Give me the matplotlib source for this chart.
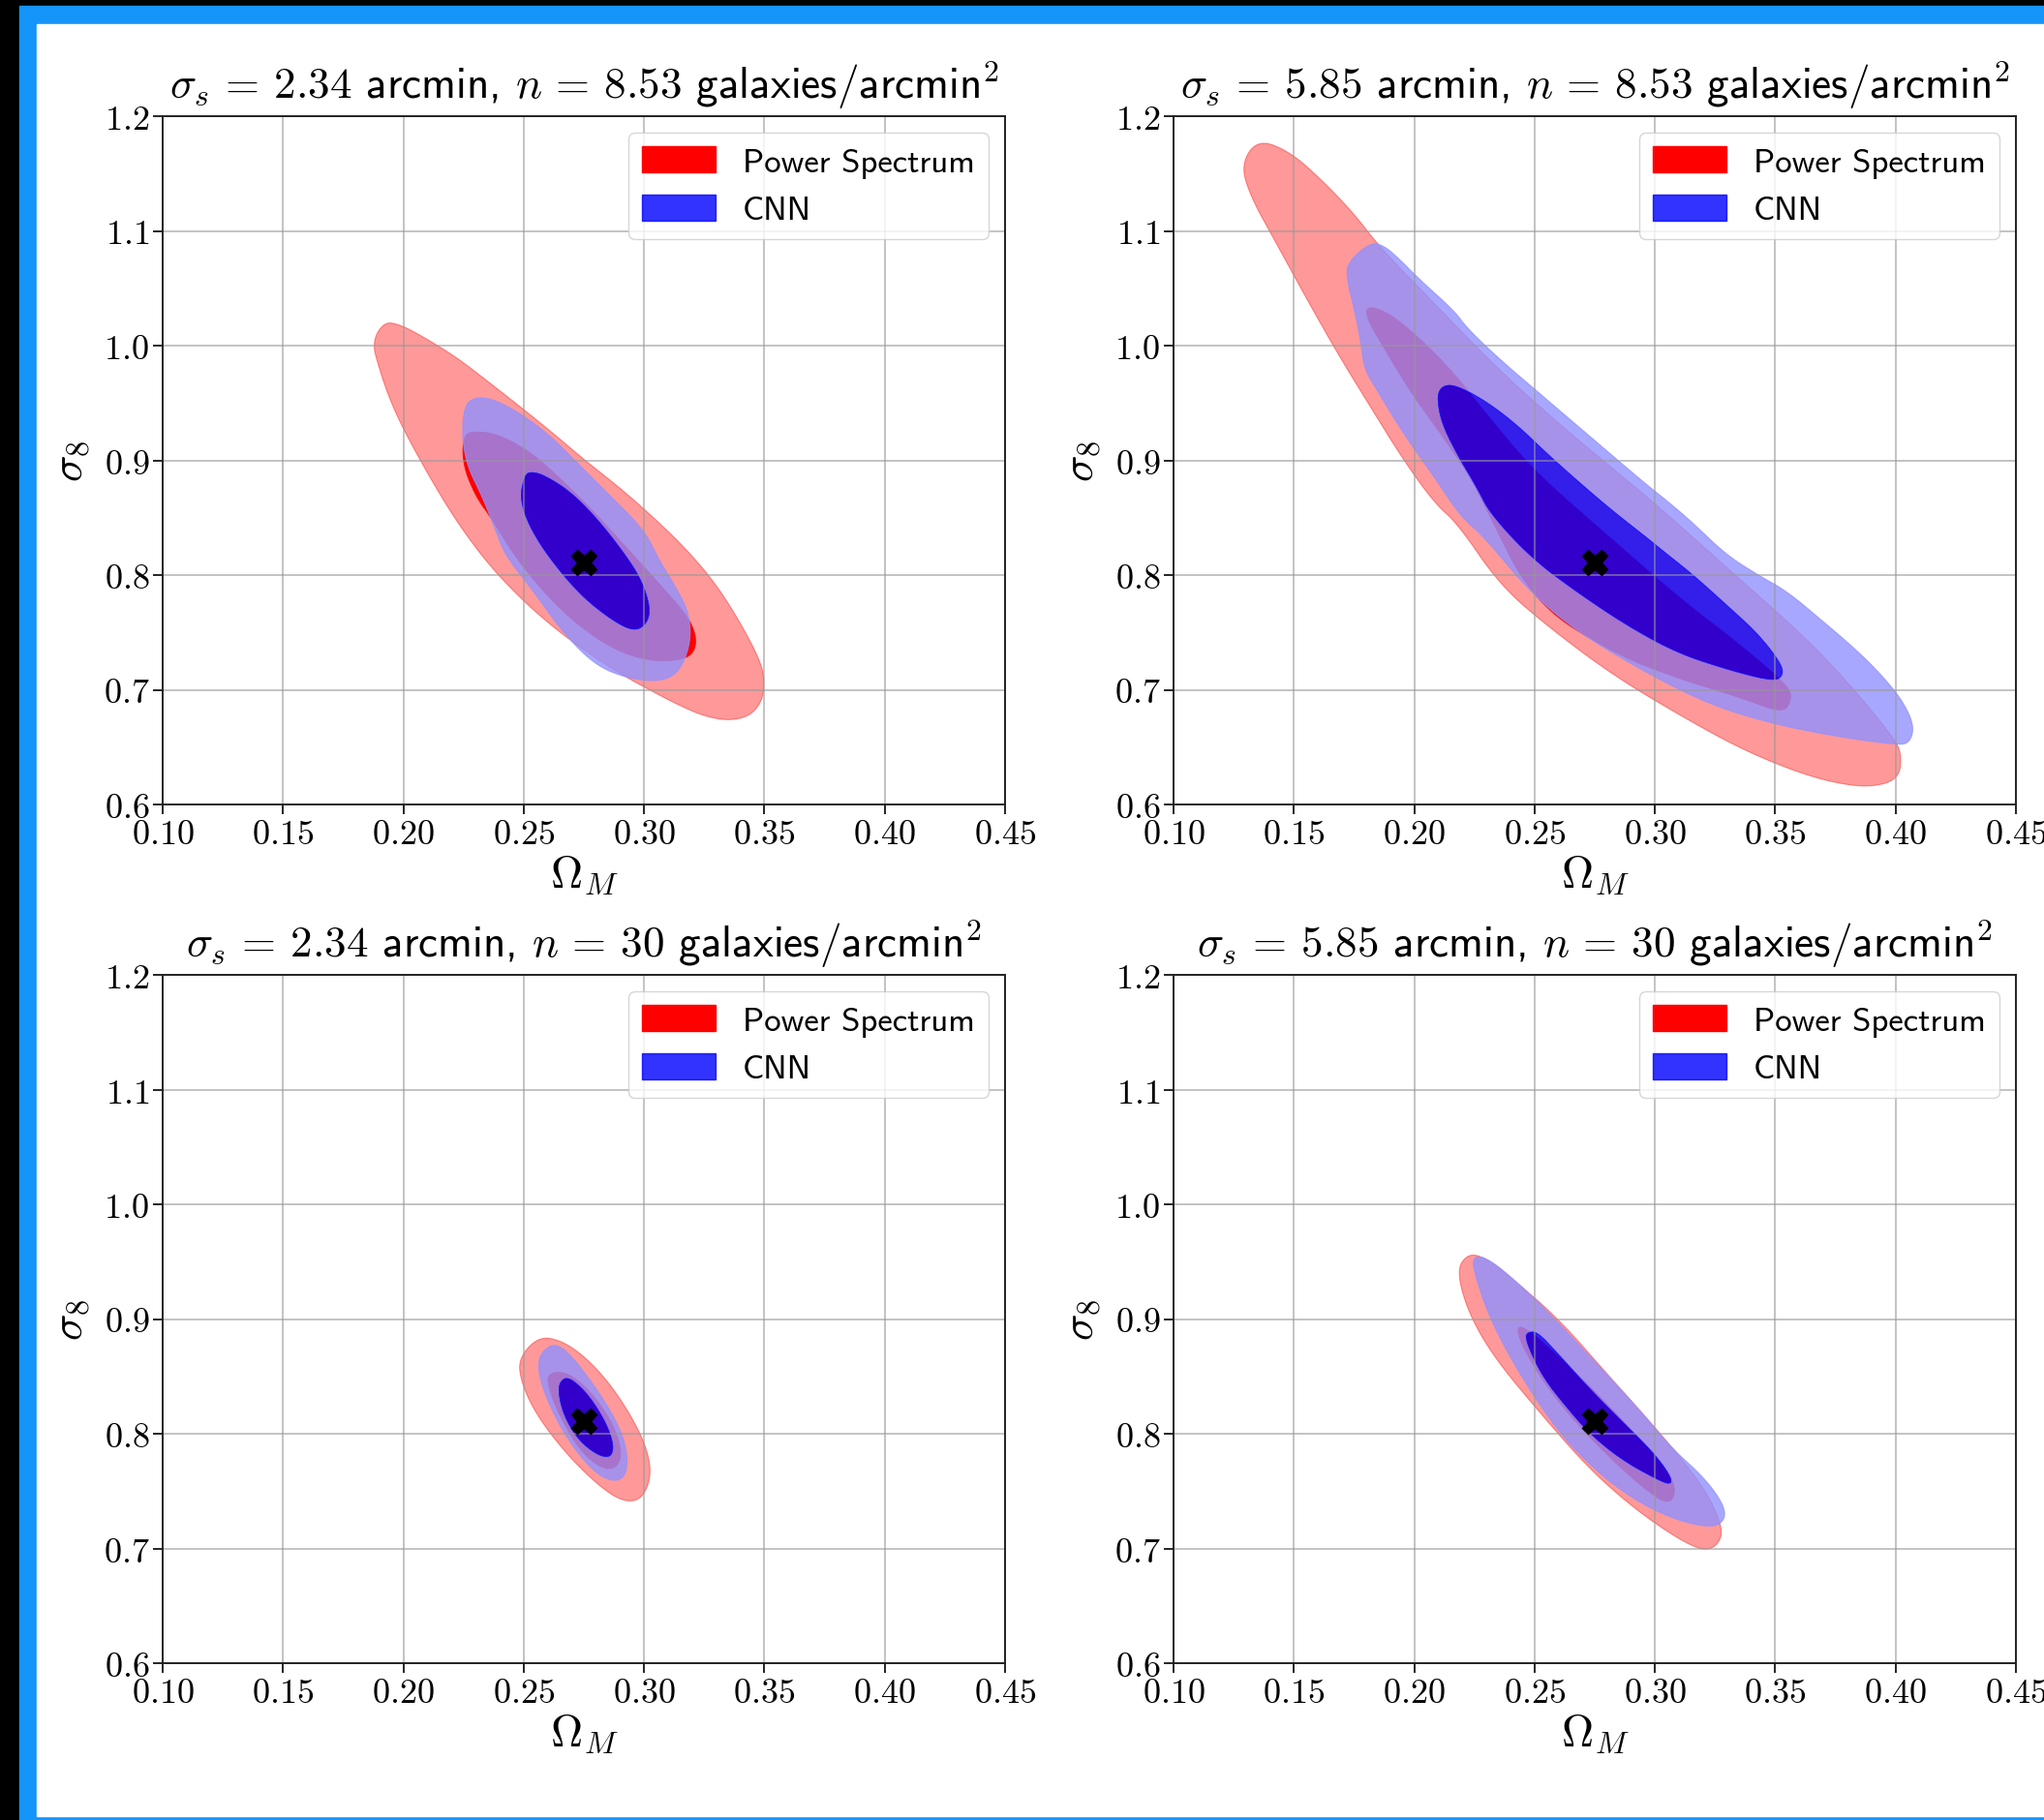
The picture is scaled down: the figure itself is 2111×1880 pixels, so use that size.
# Constraint contours in the (Omega_M, sigma_8) plane: power spectrum vs CNN
import matplotlib.pyplot as plt
import numpy as np
from matplotlib.patches import PathPatch, Patch, Rectangle
from matplotlib.path import Path
from matplotlib.ticker import FuncFormatter

plt.rcParams['font.family'] = ['cmss10', 'DejaVu Sans']
plt.rcParams['mathtext.fontset'] = 'cm'
plt.rcParams['axes.unicode_minus'] = False

titles = [
    r'$\sigma_s\,=\,2.34$ arcmin, $n\,=\,8.53$ galaxies/arcmin$^2$',
    r'$\sigma_s\,=\,5.85$ arcmin, $n\,=\,8.53$ galaxies/arcmin$^2$',
    r'$\sigma_s\,=\,2.34$ arcmin, $n\,=\,30$ galaxies/arcmin$^2$',
    r'$\sigma_s\,=\,5.85$ arcmin, $n\,=\,30$ galaxies/arcmin$^2$',
]
x_ticks = [0.10, 0.15, 0.20, 0.25, 0.30, 0.35, 0.40, 0.45]
y_ticks = [0.6, 0.7, 0.8, 0.9, 1.0, 1.1, 1.2]
fid_om, fid_s8 = 0.275, 0.811

# contour outlines (Omega_M, sigma_8), one list per confidence region
# --- sigma_s = 2.34, n = 8.53
ps95_a = [(0.192, 1.021), (0.187, 1.003), (0.190, 0.980), (0.194, 0.955), (0.200, 0.927),
          (0.211, 0.885), (0.222, 0.847), (0.235, 0.810), (0.249, 0.779), (0.262, 0.755),
          (0.276, 0.733), (0.290, 0.714), (0.303, 0.699), (0.315, 0.686), (0.325, 0.677),
          (0.335, 0.673), (0.344, 0.677), (0.349, 0.690), (0.350, 0.705), (0.349, 0.722),
          (0.341, 0.755), (0.330, 0.792), (0.317, 0.824), (0.303, 0.852), (0.290, 0.876),
          (0.276, 0.899), (0.262, 0.924), (0.249, 0.946), (0.235, 0.969), (0.222, 0.990),
          (0.208, 1.008), (0.199, 1.018)]
ps68_a = [(0.2249, 0.9225), (0.2247, 0.8958), (0.2303, 0.8676), (0.2363, 0.8507), (0.2477, 0.8113),
          (0.2665, 0.7662), (0.2866, 0.7352), (0.304, 0.724), (0.3174, 0.7268), (0.3214, 0.7352),
          (0.3214, 0.7493), (0.3174, 0.7662), (0.3067, 0.7915), (0.2933, 0.8225), (0.2799, 0.8535),
          (0.2665, 0.8817), (0.2531, 0.907), (0.2397, 0.9225), (0.2303, 0.9254)]
cnn95_a = [(0.2303, 0.955), (0.2256, 0.949), (0.2243, 0.924), (0.2263, 0.896), (0.233, 0.8676),
           (0.2383, 0.8394), (0.2424, 0.8169), (0.2531, 0.7887), (0.2665, 0.7493), (0.2799, 0.7211),
           (0.2933, 0.7099), (0.3067, 0.707), (0.3147, 0.7155), (0.3194, 0.7408), (0.3188, 0.7662),
           (0.3134, 0.7887), (0.3067, 0.8113), (0.300, 0.8394), (0.2866, 0.8676), (0.2732, 0.8958),
           (0.2598, 0.924), (0.2464, 0.9437), (0.237, 0.9535)]
cnn68_a = [(0.2504, 0.8873), (0.2484, 0.8676), (0.2517, 0.845), (0.2598, 0.8169), (0.2732, 0.7831),
           (0.2866, 0.7606), (0.296, 0.7507), (0.3013, 0.7577), (0.3027, 0.7718), (0.2987, 0.7972),
           (0.2906, 0.8225), (0.2799, 0.8507), (0.2692, 0.8732), (0.2584, 0.8873), (0.2531, 0.8901)]

# --- sigma_s = 5.85, n = 8.53
ps95_b = [(0.135, 1.180), (0.128, 1.158), (0.132, 1.130), (0.1417, 1.093), (0.155, 1.042),
          (0.1685, 0.992), (0.182, 0.946), (0.1953, 0.901), (0.2087, 0.862), (0.218, 0.845),
          (0.2355, 0.7915), (0.2556, 0.755), (0.2824, 0.713), (0.3093, 0.679), (0.336, 0.648),
          (0.3629, 0.625), (0.383, 0.6155), (0.395, 0.617), (0.4016, 0.625), (0.4024, 0.642),
          (0.4004, 0.655), (0.383, 0.700), (0.3629, 0.745), (0.336, 0.795), (0.3025, 0.858),
          (0.2824, 0.893), (0.2623, 0.928), (0.2355, 0.978), (0.2087, 1.036), (0.186, 1.085),
          (0.175, 1.115), (0.1618, 1.144), (0.1484, 1.169)]
ps68_b = [(0.1806, 1.035), (0.180, 1.025), (0.186, 1.003), (0.198, 0.961), (0.2087, 0.930),
          (0.222, 0.890), (0.229, 0.862), (0.249, 0.777), (0.2824, 0.732), (0.3093, 0.710),
          (0.336, 0.693), (0.3535, 0.679), (0.357, 0.693), (0.355, 0.704), (0.335, 0.740),
          (0.310, 0.780), (0.280, 0.835), (0.250, 0.890), (0.230, 0.940), (0.217, 0.975),
          (0.203, 1.005), (0.190, 1.028)]
cnn95_b = [(0.1819, 1.090), (0.1725, 1.073), (0.1719, 1.059), (0.1752, 1.031), (0.1779, 1.003),
           (0.1792, 0.980), (0.1846, 0.961), (0.1953, 0.924), (0.2087, 0.8845), (0.2194, 0.8507),
           (0.2288, 0.834), (0.249, 0.783), (0.269, 0.749), (0.2958, 0.7155), (0.3227, 0.687),
           (0.3495, 0.670), (0.3763, 0.659), (0.4004, 0.652), (0.4058, 0.6535), (0.4078, 0.668),
           (0.4031, 0.690), (0.3937, 0.714), (0.383, 0.736), (0.3696, 0.760), (0.3548, 0.786),
           (0.3428, 0.800), (0.3294, 0.818), (0.316, 0.845), (0.3066, 0.862), (0.2958, 0.880),
           (0.2757, 0.916), (0.2556, 0.952), (0.2355, 0.988), (0.222, 1.015), (0.2168, 1.030),
           (0.202, 1.058), (0.1926, 1.078), (0.1873, 1.087)]
cnn68_b = [(0.2114, 0.9648), (0.2094, 0.955), (0.2114, 0.932), (0.2181, 0.904), (0.2261, 0.876),
           (0.2315, 0.8535), (0.249, 0.814), (0.269, 0.783), (0.2891, 0.755), (0.3093, 0.732),
           (0.3294, 0.718), (0.3495, 0.707), (0.3535, 0.713), (0.3521, 0.724), (0.3428, 0.749),
           (0.3294, 0.7746), (0.316, 0.800), (0.3025, 0.8225), (0.2958, 0.834), (0.2824, 0.856),
           (0.269, 0.880), (0.2556, 0.905), (0.2422, 0.932), (0.2288, 0.953), (0.2168, 0.966)]

# --- sigma_s = 2.34, n = 30
ps95_c = [(0.256, 0.8845), (0.248, 0.866), (0.2487, 0.8465), (0.2547, 0.8183), (0.2668, 0.7845),
          (0.2802, 0.7563), (0.2909, 0.7408), (0.2989, 0.7423), (0.303, 0.762), (0.3016, 0.7845),
          (0.2962, 0.8099), (0.2869, 0.8408), (0.2761, 0.8662), (0.2654, 0.8817)]
ps68_c = [(0.2614, 0.8535), (0.2594, 0.8465), (0.2641, 0.8183), (0.2735, 0.7845), (0.2828, 0.769),
          (0.2889, 0.7704), (0.2909, 0.7845), (0.2869, 0.8099), (0.2775, 0.838), (0.2681, 0.8535)]
cnn95_c = [(0.2601, 0.8761), (0.256, 0.8662), (0.2567, 0.8465), (0.2627, 0.8155), (0.2708, 0.7873),
           (0.2802, 0.7648), (0.2882, 0.7577), (0.2929, 0.7648), (0.2929, 0.7873), (0.2882, 0.8127),
           (0.2788, 0.8437), (0.2694, 0.869), (0.2641, 0.8775)]
cnn68_c = [(0.2668, 0.8493), (0.2641, 0.8408), (0.2661, 0.8183), (0.2721, 0.7958), (0.2802, 0.7817),
           (0.2862, 0.7789), (0.2875, 0.7901), (0.2842, 0.8099), (0.2775, 0.8324), (0.2708, 0.8465)]

# --- sigma_s = 5.85, n = 30
ps95_d = [(0.2223, 0.9569), (0.2176, 0.9428), (0.2223, 0.9062), (0.233, 0.8668), (0.2531, 0.8161),
          (0.2732, 0.7682), (0.2933, 0.7315), (0.3134, 0.7034), (0.3228, 0.6977), (0.3281, 0.709),
          (0.3268, 0.7259), (0.3201, 0.7541), (0.304, 0.7963), (0.2799, 0.8527), (0.2598, 0.9006),
          (0.2397, 0.9372), (0.229, 0.9541)]
ps68_d = [(0.2424, 0.8935), (0.245, 0.8752), (0.2558, 0.8386), (0.2692, 0.8048), (0.2866, 0.7682),
          (0.3013, 0.7428), (0.3067, 0.740), (0.3087, 0.7513), (0.3054, 0.7682), (0.2933, 0.7963),
          (0.2745, 0.8386), (0.2558, 0.8752), (0.2464, 0.8921)]
cnn95_d = [(0.2249, 0.9541), (0.2243, 0.9456), (0.2303, 0.9062), (0.2397, 0.8668), (0.2531, 0.8217),
           (0.2665, 0.7851), (0.2866, 0.7484), (0.3067, 0.7259), (0.3241, 0.7175), (0.3295, 0.7259),
           (0.3281, 0.740), (0.3201, 0.7625), (0.3067, 0.7879), (0.2933, 0.8217), (0.2732, 0.8668),
           (0.2531, 0.9118), (0.237, 0.9428), (0.229, 0.9541)]
cnn68_d = [(0.2477, 0.8893), (0.2457, 0.8837), (0.2531, 0.8499), (0.2638, 0.8217), (0.2732, 0.7992),
           (0.2866, 0.7766), (0.3013, 0.7597), (0.3067, 0.7555), (0.3067, 0.7625), (0.300, 0.7823),
           (0.2866, 0.8104), (0.2732, 0.8386), (0.2598, 0.8696), (0.2517, 0.8879)]

panels = [(ps95_a, ps68_a, cnn95_a, cnn68_a), (ps95_b, ps68_b, cnn95_b, cnn68_b),
          (ps95_c, ps68_c, cnn95_c, cnn68_c), (ps95_d, ps68_d, cnn95_d, cnn68_d)]


def smooth(pts, n=4):
    # Chaikin corner cutting on a closed outline
    p = np.asarray(pts, dtype=float)
    for _ in range(n):
        q = np.roll(p, -1, axis=0)
        new = np.empty((2 * len(p), 2))
        new[0::2] = 0.75 * p + 0.25 * q
        new[1::2] = 0.25 * p + 0.75 * q
        p = new
    return p


def signed_area(p):
    x, y = p[:, 0], p[:, 1]
    return 0.5 * np.sum(x * np.roll(y, -1) - np.roll(x, -1) * y)


def closed_path(p):
    verts = np.vstack([p, p[:1]])
    codes = [Path.MOVETO] + [Path.LINETO] * (len(p) - 1) + [Path.CLOSEPOLY]
    return verts, codes


def ring_path(outer, inner):
    o = smooth(outer)
    i = smooth(inner)
    if signed_area(o) * signed_area(i) > 0:
        i = i[::-1]
    vo, co = closed_path(o)
    vi, ci = closed_path(i)
    return Path(np.vstack([vo, vi]), co + ci)


def fill_path(pts):
    v, c = closed_path(smooth(pts))
    return Path(v, c)


fig = plt.figure(figsize=(21.11, 18.81), dpi=100)
W, H = 2111, 1881

# frame around the figure
fig.add_artist(Rectangle((0, 0), 1, 1, transform=fig.transFigure, color='black', zorder=-10))
fig.add_artist(Rectangle((20 / W, 0), 1, 1 - 7 / H, transform=fig.transFigure,
                         color='#1594fa', zorder=-9))
fig.add_artist(Rectangle((38 / W, 4 / H), 1, 1 - 30 / H, transform=fig.transFigure,
                         color='white', zorder=-8))

boxes = [(168, 121), (1212, 121), (168, 1008), (1212, 1008)]
ax_w, ax_h = 870, 711

cnn_light = (145 / 255, 145 / 255, 1.0)

for k, (px, py) in enumerate(boxes):
    ax = fig.add_axes([px / W, 1 - (py + ax_h) / H, ax_w / W, ax_h / H])
    ps95, ps68, cnn95, cnn68 = panels[k]

    ax.add_patch(PathPatch(ring_path(ps95, ps68), facecolor='red', edgecolor='red',
                           alpha=0.4, lw=0.8, zorder=1))
    ax.add_patch(PathPatch(fill_path(ps68), facecolor='red', edgecolor='red',
                           lw=0.5, zorder=1))
    ax.add_patch(PathPatch(ring_path(cnn95, cnn68), facecolor=cnn_light, edgecolor=cnn_light,
                           alpha=0.8, lw=0.8, zorder=1))
    ax.add_patch(PathPatch(fill_path(cnn68), facecolor='blue', edgecolor='blue',
                           alpha=0.8, lw=0.5, zorder=1))

    ax.plot(fid_om, fid_s8, marker='X', color='black', ms=19, ls='none', zorder=3)

    ax.set_xlim(0.10, 0.45)
    ax.set_ylim(0.6, 1.2)
    ax.set_xticks(x_ticks)
    ax.set_yticks(y_ticks)
    ax.xaxis.set_major_formatter(FuncFormatter(lambda v, p: r'$%.2f$' % v))
    ax.yaxis.set_major_formatter(FuncFormatter(lambda v, p: r'$%.1f$' % v))
    ax.tick_params(labelsize=26, length=7, width=1.2, pad=3)
    ax.grid(True, color='#989898', lw=1.4, alpha=0.58)
    for s in ax.spines.values():
        s.set_linewidth(1.4)
        s.set_color('#222222')

    ax.set_title(titles[k], fontsize=32.5, pad=14)
    ax.set_xlabel(r'$\Omega_M$', fontsize=33, labelpad=2)
    ax.set_ylabel(r'$\sigma_8$', fontsize=33, labelpad=8)

    handles = [Patch(facecolor='red', edgecolor='red', label='Power Spectrum'),
               Patch(facecolor='blue', edgecolor='blue', alpha=0.8, label='CNN')]
    ax.legend(handles=handles, loc='upper right', fontsize=25, handlelength=2.2,
              handleheight=0.8, framealpha=0.8, edgecolor='0.8')

fig.savefig('out.png', dpi=100)
